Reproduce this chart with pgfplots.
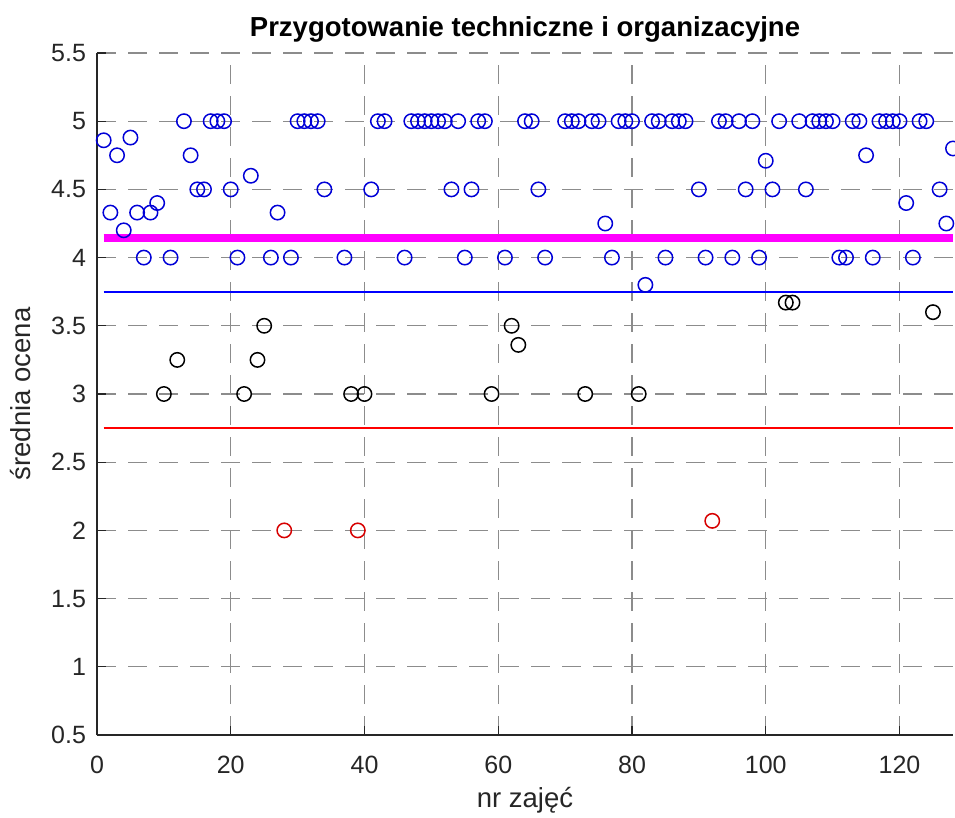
\documentclass[border=0pt]{standalone}
\usepackage{pgfplots}
\pgfplotsset{compat=1.18}
\usepackage{fontspec}
\setmainfont{Liberation Sans}
\definecolor{mblue}{RGB}{0,0,215}
\definecolor{refblue}{RGB}{0,0,255}
\definecolor{lred}{RGB}{255,0,0}
\definecolor{mmag}{RGB}{255,0,255}
\definecolor{mred}{RGB}{215,0,0}
\definecolor{axgray}{RGB}{38,38,38}
\definecolor{gridgray}{RGB}{140,140,140}
\begin{document}
\begin{tikzpicture}
\begin{axis}[
  scale only axis,
  width=428pt, height=341pt,
  xmin=0, xmax=128, ymin=0.5, ymax=5.5,
  xtick={0,20,...,120},
  ytick={0.5,1,...,5.5},
  axis lines*=left,
  axis line style={axgray, line width=0.6pt},
  tick style={axgray, line width=0.6pt},
  tick align=inside,
  major tick length=4.5pt,
  /pgf/number format/assume math mode=true,
  tick label style={font=\fontsize{12.5}{14}\selectfont, text=axgray},
  yticklabel style={xshift=-2pt},
  xticklabel style={yshift=-7pt},
  grid=major,
  major grid style={gridgray, line width=0.6pt, dash pattern=on 9.5pt off 6pt},
  title={\textbf{Przygotowanie techniczne i organizacyjne}},
  title style={font=\fontsize{13.75}{15}\selectfont, at={(axis description cs:0.5,1.0)}, anchor=south, yshift=-4pt},
  xlabel={nr zajęć},
  ylabel={średnia ocena},
  label style={font=\fontsize{13.75}{15}\selectfont, text=axgray},
  xlabel style={at={(axis description cs:0.5,-0.095)}, anchor=center},
  ylabel style={at={(axis description cs:-0.089,0.5)}, anchor=center, rotate=0},
]
\addplot[draw=mmag, line width=4pt] coordinates {(1,4.145) (128,4.145)};
\addplot[draw=lred, line width=0.6pt] coordinates {(1,2.75) (128,2.75)};
\addplot[draw=refblue, line width=1.1pt] coordinates {(1,3.75) (128,3.75)};
\addplot[only marks, mark=o, mark size=3.6pt, mark options={mblue, line width=0.75pt}] coordinates {
(1,4.86) (2,4.33) (3,4.75) (4,4.2) (5,4.88) (6,4.33) (7,4) (8,4.33) (9,4.4) (11,4)
(13,5) (14,4.75) (15,4.5) (16,4.5) (17,5) (18,5) (19,5) (20,4.5) (21,4) (23,4.6)
(26,4) (27,4.33) (29,4) (30,5) (31,5) (32,5) (33,5) (34,4.5) (37,4) (41,4.5)
(42,5) (43,5) (46,4) (47,5) (48,5) (49,5) (50,5) (51,5) (52,5) (53,4.5)
(54,5) (55,4) (56,4.5) (57,5) (58,5) (61,4) (64,5) (65,5) (66,4.5) (67,4)
(70,5) (71,5) (72,5) (74,5) (75,5) (76,4.25) (77,4) (78,5) (79,5) (80,5)
(82,3.8) (83,5) (84,5) (85,4) (86,5) (87,5) (88,5) (90,4.5) (91,4) (93,5)
(94,5) (95,4) (96,5) (97,4.5) (98,5) (99,4) (100,4.71) (101,4.5) (102,5) (105,5)
(106,4.5) (107,5) (108,5) (109,5) (110,5) (111,4) (112,4) (113,5) (114,5) (115,4.75)
(116,4) (117,5) (118,5) (119,5) (120,5) (121,4.4) (122,4) (123,5) (124,5) (126,4.5)
(127,4.25) (128,4.8)
};
\addplot[only marks, mark=o, mark size=3.6pt, mark options={black, line width=0.75pt}] coordinates {
(10,3) (12,3.25) (22,3) (24,3.25) (25,3.5) (38,3) (40,3) (59,3) (62,3.5) (63,3.36)
(73,3) (81,3) (103,3.67) (104,3.67) (125,3.6)
};
\addplot[only marks, mark=o, mark size=3.6pt, mark options={mred, line width=0.75pt}] coordinates {
(28,2) (39,2) (92,2.07)
};
\end{axis}
\pgfresetboundingbox
\path ([xshift=-48.5pt,yshift=-41pt]current axis.south west) rectangle ([xshift=1pt,yshift=26.5pt]current axis.north east);
\end{tikzpicture}
\end{document}
